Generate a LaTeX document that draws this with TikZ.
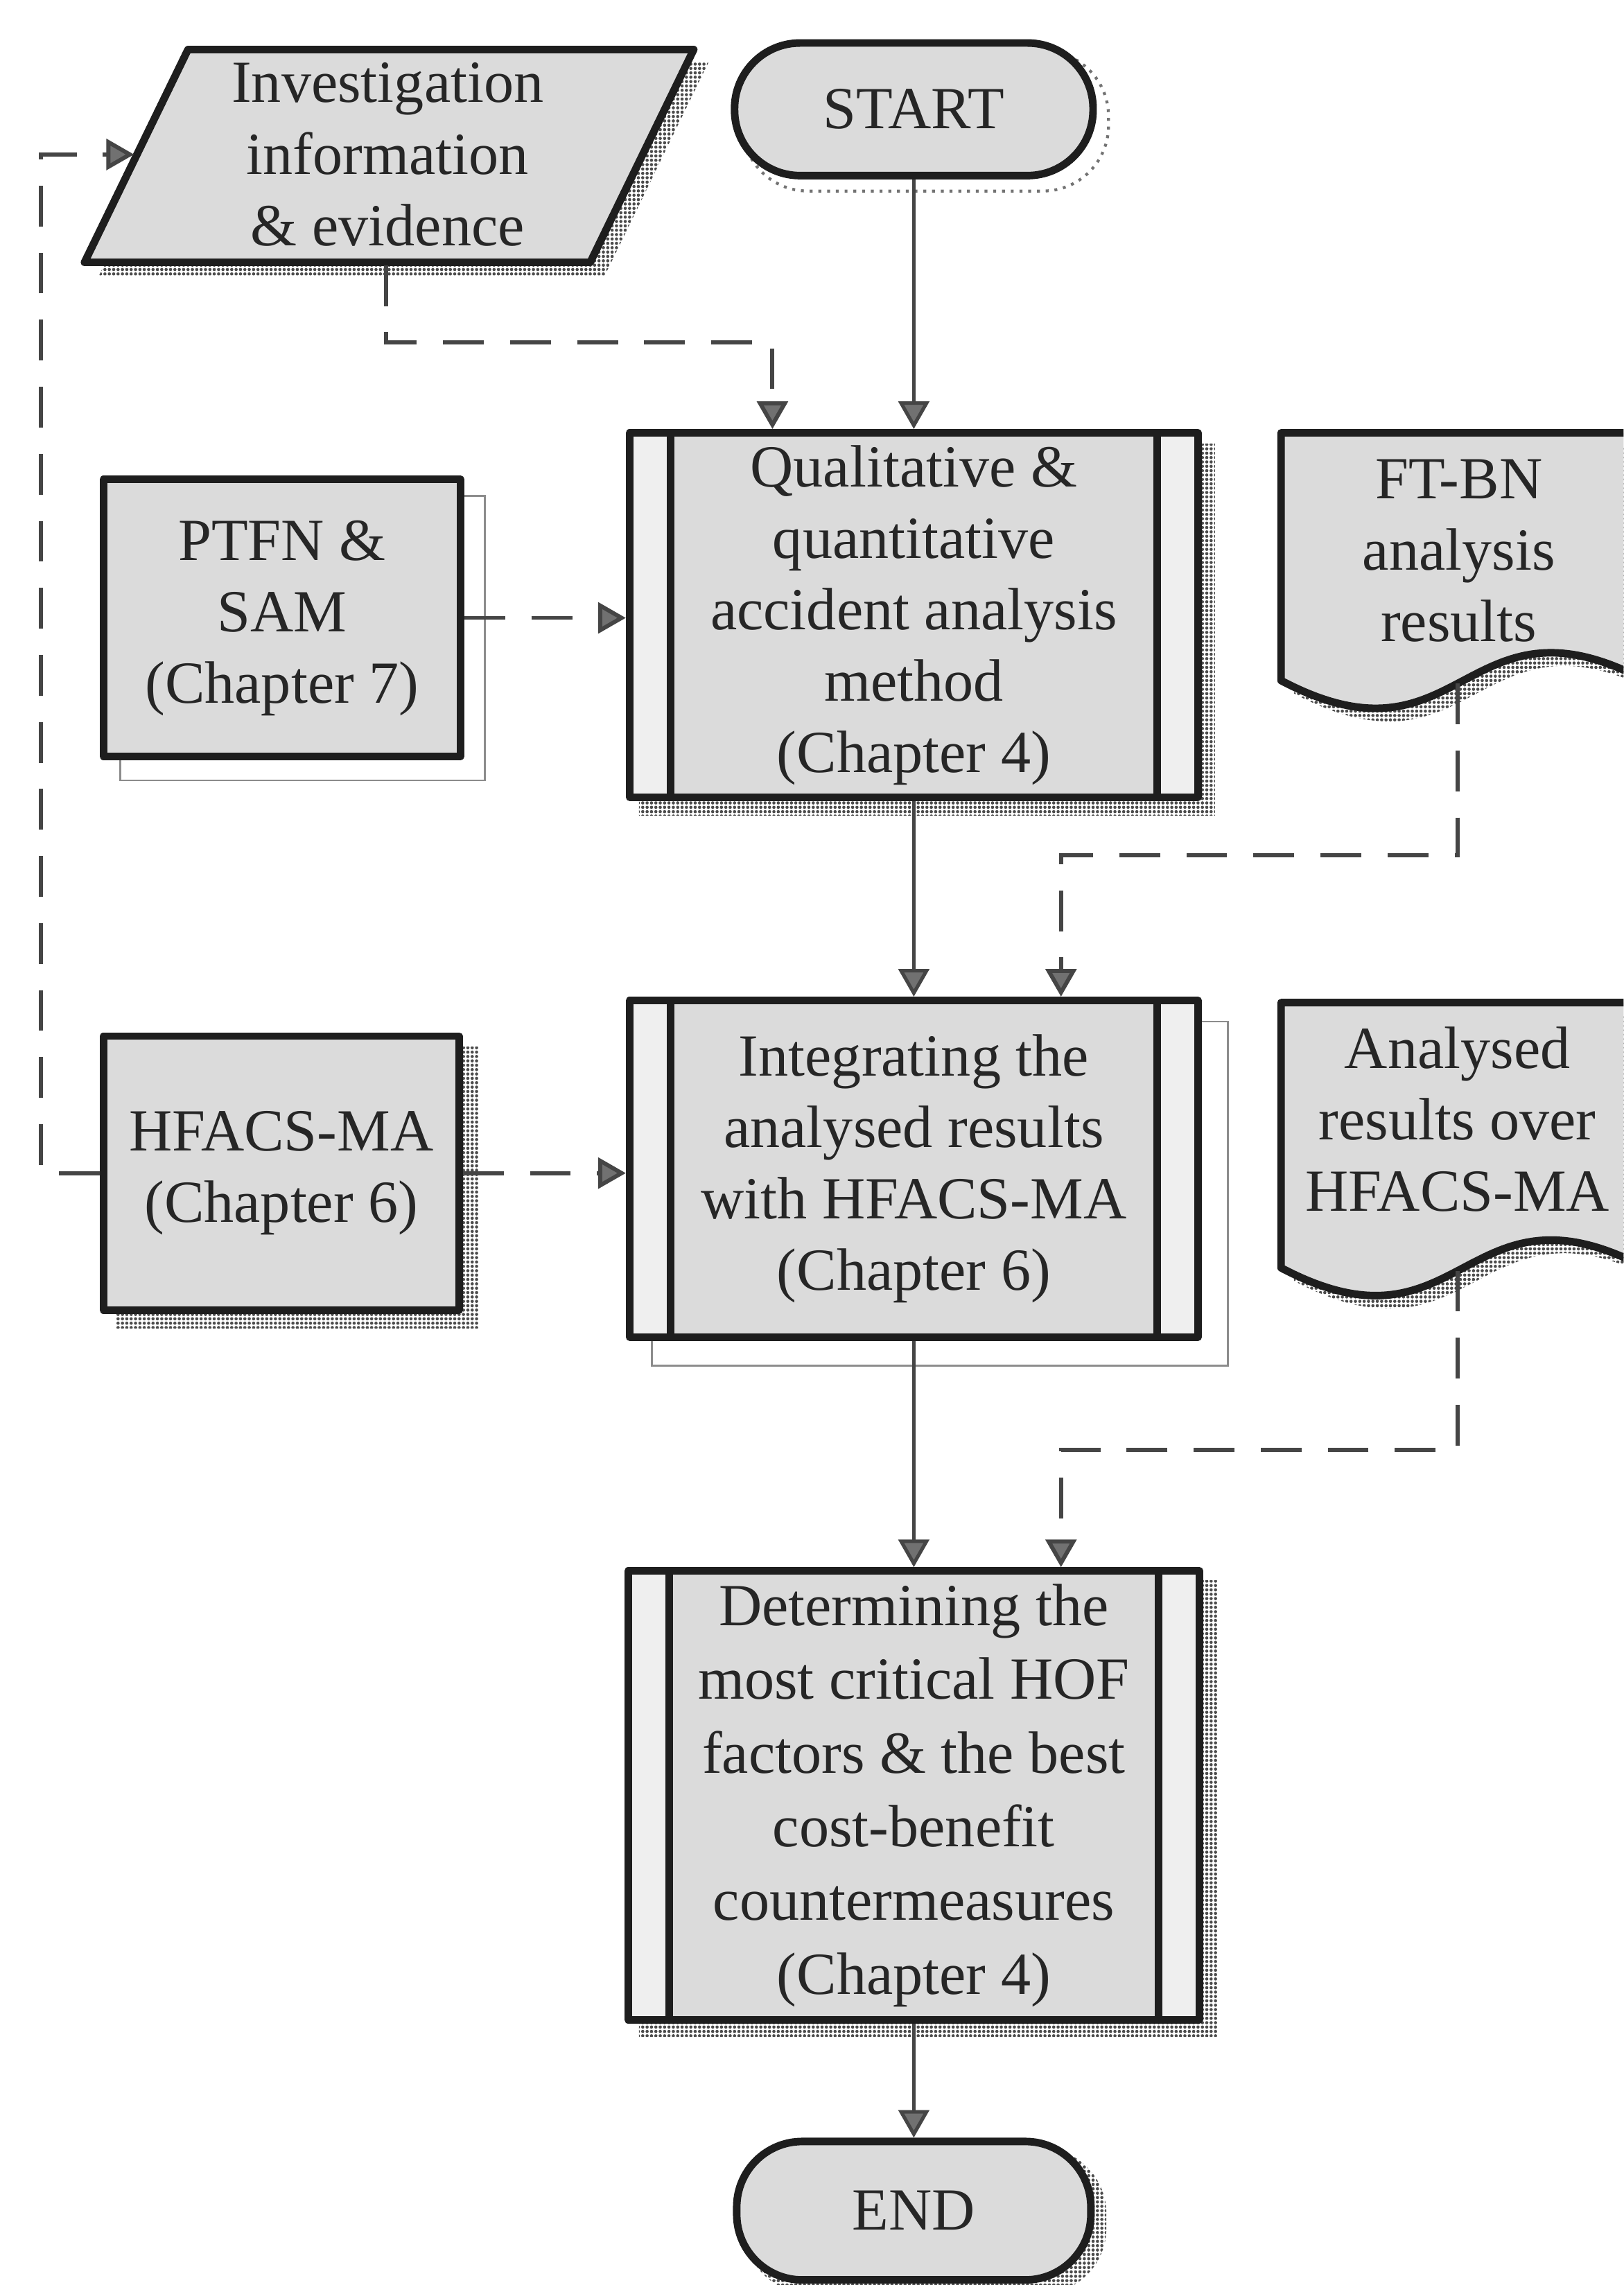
\documentclass[tikz,border=0pt]{standalone}
\usepackage{fontspec}
\setmainfont{Liberation Serif}
\usetikzlibrary{arrows.meta,patterns.meta,calc}
\pgfdeclarelayer{shadowlayer}
\pgfsetlayers{shadowlayer,main}

\definecolor{edge}{HTML}{1E1E1E}
\definecolor{boxfill}{HTML}{DBDBDB}
\definecolor{sidefill}{HTML}{EFEFEF}
\definecolor{inkgray}{HTML}{262626}
\definecolor{linkgray}{HTML}{454545}
\definecolor{headgray}{HTML}{717171}

\newcommand\chartfont{\fontsize{20.5pt}{24.5pt}\selectfont}

\tikzset{
  outline/.style={draw=edge, line width=2.6pt, line join=round},
  shape text/.style={text=inkgray, align=center, font=\chartfont, inner sep=0pt},
  plainbox/.style={rectangle, outline, fill=boxfill, shape text},
  procbox/.style={rectangle, outline, fill=sidefill, shape text,
    path picture={
      \fill[boxfill] ([xshift=14pt]path picture bounding box.north west)
        rectangle ([xshift=-14pt]path picture bounding box.south east);
      \draw[edge, line width=2.6pt]
        ([xshift=14pt]path picture bounding box.north west) --
        ([xshift=14pt]path picture bounding box.south west);
      \draw[edge, line width=2.6pt]
        ([xshift=-14pt]path picture bounding box.north east) --
        ([xshift=-14pt]path picture bounding box.south east);
    }},
  terminal/.style={rectangle, rounded corners=22.5pt, outline, fill=boxfill, shape text},
  flow/.style={draw=linkgray, line width=1.2pt,
    -{Triangle[width=10.5pt,length=9.5pt,fill=headgray]}},
  feed/.style={draw=linkgray, line width=1.4pt, dash pattern=on 14pt off 9pt,
    -{Triangle[width=10.5pt,length=9.5pt,fill=headgray]}},
  stipple/.style={pattern={Dots[distance=1.5pt, radius=0.55pt]}, pattern color=black!70},
  ghost/.style={draw=black!45, line width=0.6pt},
}

\begin{document}
\begin{tikzpicture}[x=0.5pt, y=-0.5pt]
\useasboundingbox (0,0) rectangle (1114,1568);
\clip (0,0) rectangle (1114,1568);

% input / output parallelogram
\draw[outline, fill=boxfill] (129,34) -- (476,34) -- (405,180) -- (58,180) -- cycle;
\node[shape text] (inv) at (266,106) {Investigation\\information\\\& evidence};
\coordinate (invfoot) at (265,182);
\coordinate (invin) at (92,106);

% terminals
\node[terminal, minimum width=123pt, minimum height=45.5pt] (start) at (627,75) {START};
\node[terminal, minimum width=121.5pt, minimum height=47.5pt] (end) at (627,1517) {END};

% predefined processes
\node[procbox, minimum width=195pt, minimum height=125pt] (qual) at (627,422)
  {Qualitative \&\\quantitative\\accident analysis\\method\\(Chapter 4)};
\node[procbox, minimum width=195pt, minimum height=115.5pt] (integ) at (627,802)
  {Integrating the\\analysed results\\with HFACS-MA\\(Chapter 6)};
\node[procbox, minimum width=196pt, minimum height=154pt,
      font=\fontsize{20.5pt}{25.3pt}\selectfont] (det) at (627,1232)
  {Determining the\\most critical HOF\\factors \& the best\\cost-benefit\\countermeasures\\(Chapter 4)};

% method boxes on the left
\node[plainbox, minimum width=122.5pt, minimum height=95pt] (ptfn) at (193.5,424)
  {PTFN \&\\SAM\\(Chapter 7)};
\node[plainbox, minimum width=122pt, minimum height=94pt] (hfacs) at (193,805)
  {HFACS-MA\\(Chapter 6)};

% document shapes on the right
\draw[outline, fill=boxfill] (879,297) -- (879,467)
  .. controls (1004,533) and (1004,401) .. (1129,467) -- (1129,297) -- cycle;
\node[shape text] (ftbn) at (1001,378) {FT-BN\\analysis\\results};
\coordinate (ftbnfoot) at (1000,469);

\draw[outline, fill=boxfill] (879,688) -- (879,870)
  .. controls (1004,936) and (1004,804) .. (1129,870) -- (1129,688) -- cycle;
\node[shape text] (anres) at (1000,768) {Analysed\\results over\\HFACS-MA};
\coordinate (anfoot) at (1000,872);

% shadows
\begin{pgfonlayer}{shadowlayer}
  \path[stipple] (139,43) -- (486,43) -- (415,189) -- (68,189) -- cycle;
  \draw[black!55, line width=1pt, dotted, rounded corners=22.5pt]
    ([shift={(8,8)}]start.north west) rectangle ([shift={(8,8)}]start.south east);
  \path[stipple, rounded corners=22.5pt]
    ([shift={(8,7)}]end.north west) rectangle ([shift={(8,7)}]end.south east);
  \path[stipple] ([shift={(9,10)}]qual.north west) rectangle ([shift={(9,10)}]qual.south east);
  \path[stipple] ([shift={(10,9)}]det.north west) rectangle ([shift={(10,9)}]det.south east);
  \path[stipple] ([shift={(11,10)}]hfacs.north west) rectangle ([shift={(11,10)}]hfacs.south east);
  \draw[ghost] ([shift={(14,14)}]ptfn.north west) rectangle ([shift={(14,14)}]ptfn.south east);
  \draw[ghost] ([shift={(18,17)}]integ.north west) rectangle ([shift={(18,17)}]integ.south east);
  \path[stipple] (888,306) -- (888,476)
    .. controls (1013,542) and (1013,410) .. (1138,476) -- (1138,306) -- cycle;
  \path[stipple] (888,697) -- (888,879)
    .. controls (1013,945) and (1013,813) .. (1138,879) -- (1138,697) -- cycle;
\end{pgfonlayer}

% main flow
\draw[flow] (start.south) -- (qual.north);
\draw[flow] (qual.south) -- (integ.north);
\draw[flow] (integ.south) -- (det.north);
\draw[flow] (det.south) -- (end.north);

% supporting inputs
\coordinate (bendA) at (530,235);
\draw[feed] (invfoot) |- (bendA) -- (bendA |- qual.north);
\draw[feed] (ptfn.east) -- (ptfn.east -| qual.west);
\coordinate (bendB) at (728,587);
\draw[feed] (ftbnfoot) |- (bendB) -- (bendB |- integ.north);
\draw[feed] (hfacs.east) -- (hfacs.east -| integ.west);
\coordinate (bendC) at (728,995);
\draw[feed] (anfoot) |- (bendC) -- (bendC |- det.north);
\coordinate (loopcorner) at (28,106);
\draw[feed] (hfacs.west) -| (loopcorner) -- (invin);
\end{tikzpicture}
\end{document}
